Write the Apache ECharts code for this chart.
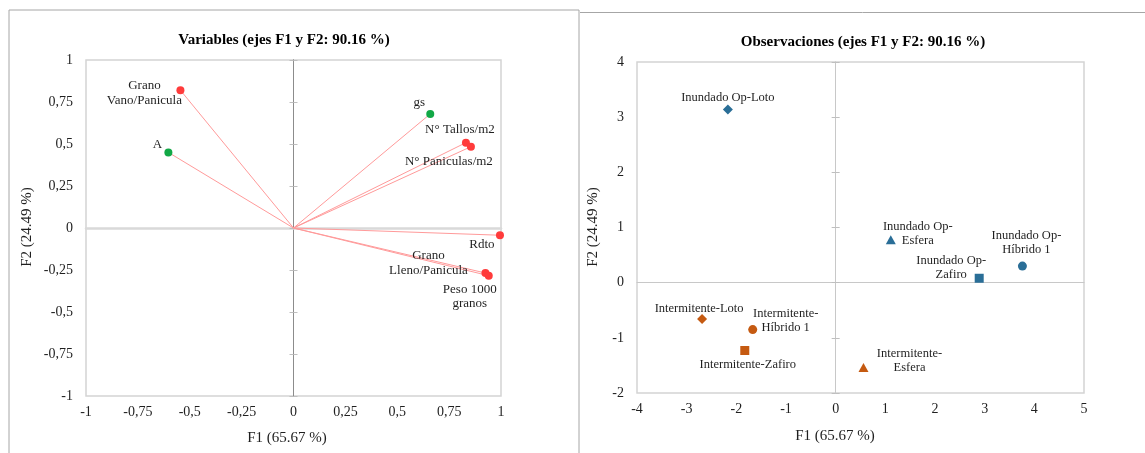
<!DOCTYPE html>
<html>
<head>
<meta charset="utf-8">
<script src="https://cdn.jsdelivr.net/npm/echarts@6/dist/echarts.min.js"></script>
<style>
  html, body { margin: 0; padding: 0; background: #fff; }
  #main { width: 1145px; height: 453px; }
</style>
</head>
<body>
<div id="main"></div>
<script>
// variables (circulo de correlaciones)
var varNames = ['Grano\nVano/Panicula', 'A', 'gs', 'N° Tallos/m2', 'N° Paniculas/m2', 'Rdto', 'Grano\nLleno/Panicula', 'Peso 1000\ngranos']
var varF1 = [-0.545, -0.603, 0.659, 0.831, 0.855, 0.995, 0.925, 0.941]
var varF2 = [0.82, 0.45, 0.679, 0.508, 0.484, -0.043, -0.268, -0.284]
var varTipo = ['rend', 'fisio', 'fisio', 'rend', 'rend', 'rend', 'rend', 'rend']

// observaciones
var obsNames = ['Inundado Op-Loto', 'Inundado Op-\nEsfera', 'Inundado Op-\nHíbrido 1', 'Inundado Op-\nZafiro', 'Intermitente-Loto', 'Intermitente-\nHíbrido 1', 'Intermitente-Zafiro', 'Intermitente-\nEsfera']
var obsF1 = [-2.17, 1.11, 3.76, 2.89, -2.69, -1.67, -1.83, 0.56]
var obsF2 = [3.14, 0.78, 0.30, 0.08, -0.66, -0.85, -1.23, -1.54]
var obsRiego = ['Inundado', 'Inundado', 'Inundado', 'Inundado', 'Intermitente', 'Intermitente', 'Intermitente', 'Intermitente']
var obsVariedad = ['Loto', 'Esfera', 'Híbrido 1', 'Zafiro', 'Loto', 'Híbrido 1', 'Zafiro', 'Esfera']

// etiquetas de los ejes
var ticksVar = ['-1', '-0,75', '-0,5', '-0,25', '0', '0,25', '0,5', '0,75', '1']
var ticksObsX = ['-4', '-3', '-2', '-1', '0', '1', '2', '3', '4', '5']
var ticksObsY = ['-2', '-1', '0', '1', '2', '3', '4']

// estilos (posiciones de etiquetas, colores, simbolos)
var varOffsets = [[-36, 3], [-11, -8], [-11, -11], [-6, -13], [-22, 15], [-18, 9], [-57, -10], [-19, 21]]
var obsOffsets = [[0, -12], [27, -6], [4, -23], [-28, -11], [-3, -10], [33, -9], [3, 14], [46, -7]]
var tipoColor = { rend: '#ff3b3b', fisio: '#12a846' }
var riegoColor = { Inundado: '#2a6e97', Intermitente: '#c55a11' }
var variedadSymbol = { Loto: 'diamond', Esfera: 'triangle', 'Híbrido 1': 'circle', Zafiro: 'rect' }
var variedadSize = { Loto: [10, 10], Esfera: [10, 9], 'Híbrido 1': 9, Zafiro: 9 }

var FONT = '"Liberation Serif", "Times New Roman", serif'
var TXT = '#1f1f1f'

function tickFmt (labels, min, step) {
  return function (v) {
    var i = Math.round((v - min) / step)
    return labels[i] !== undefined ? labels[i] : ''
  }
}

var chart = echarts.init(document.getElementById('main'))

var varPoints = varNames.map(function (n, i) {
  return {
    name: n,
    value: [varF1[i], varF2[i]],
    itemStyle: { color: tipoColor[varTipo[i]], opacity: 1 },
    label: { offset: varOffsets[i] }
  }
})
var varLines = varNames.map(function (n, i) {
  return { coords: [[0, 0], [varF1[i], varF2[i]]] }
})
var obsPoints = obsNames.map(function (n, i) {
  return {
    name: n,
    value: [obsF1[i], obsF2[i]],
    symbol: variedadSymbol[obsVariedad[i]],
    symbolSize: variedadSize[obsVariedad[i]],
    itemStyle: { color: riegoColor[obsRiego[i]], opacity: 1 },
    label: { offset: obsOffsets[i] }
  }
})

function labelAxisX (gi, min, max, step, labels) {
  return {
    gridIndex: gi, type: 'value', min: min, max: max, interval: step, position: 'bottom',
    axisLine: { show: false, onZero: false }, axisTick: { show: false }, splitLine: { show: false },
    axisLabel: { color: TXT, fontFamily: FONT, fontSize: 14, margin: 9, formatter: tickFmt(labels, min, step) }
  }
}
function labelAxisY (gi, min, max, step, labels) {
  return {
    gridIndex: gi, type: 'value', min: min, max: max, interval: step, position: 'left',
    axisLine: { show: false, onZero: false }, axisTick: { show: false }, splitLine: { show: false },
    axisLabel: { color: TXT, fontFamily: FONT, fontSize: 14, margin: 13, formatter: tickFmt(labels, min, step) }
  }
}
function zeroAxisX (gi, min, max, step, color, width) {
  return {
    gridIndex: gi, type: 'value', min: min, max: max, interval: step, position: 'bottom',
    axisLine: { show: true, onZero: true, lineStyle: { color: color, width: width } },
    axisTick: { show: false }, axisLabel: { show: false }, splitLine: { show: false }
  }
}
function zeroAxisY (gi, min, max, step, color, pos) {
  return {
    gridIndex: gi, type: 'value', min: min, max: max, interval: step, position: pos,
    axisLine: { show: true, onZero: true, lineStyle: { color: color, width: 1 } },
    axisTick: { show: true, length: 4, lineStyle: { color: '#bfbfbf' } },
    axisLabel: { show: false }, splitLine: { show: false }
  }
}

var labelStyle = function (size) {
  return {
    show: true, position: 'inside', formatter: '{b}', color: TXT,
    fontFamily: FONT, fontSize: size, lineHeight: size + 1.5, align: 'center', verticalAlign: 'middle'
  }
}

chart.setOption({
  backgroundColor: '#fff',
  animation: false,
  grid: [
    { left: 86, top: 60, width: 415, height: 336, show: true, borderColor: '#d4d4d4', borderWidth: 1.5 },
    { left: 637, top: 62, width: 447, height: 331, show: true, borderColor: '#d4d4d4', borderWidth: 1.5 }
  ],
  xAxis: [
    labelAxisX(0, -1, 1, 0.25, ticksVar),
    zeroAxisX(0, -1, 1, 0.25, '#d9d9d9', 2.5),
    labelAxisX(1, -4, 5, 1, ticksObsX),
    zeroAxisX(1, -4, 5, 1, '#c8c8c8', 1.2)
  ],
  yAxis: [
    labelAxisY(0, -1, 1, 0.25, ticksVar),
    zeroAxisY(0, -1, 1, 0.25, '#8c8c8c', 'left'),
    zeroAxisY(0, -1, 1, 0.25, '#8c8c8c', 'right'),
    labelAxisY(1, -2, 4, 1, ticksObsY),
    zeroAxisY(1, -2, 4, 1, '#c8c8c8', 'left'),
    zeroAxisY(1, -2, 4, 1, '#c8c8c8', 'right')
  ],
  series: [
    {
      type: 'lines',
      coordinateSystem: 'cartesian2d',
      xAxisIndex: 0,
      yAxisIndex: 0,
      symbol: 'none',
      silent: true,
      lineStyle: { color: '#ff9a9a', width: 1, opacity: 1 },
      data: varLines,
      z: 3
    },
    {
      type: 'scatter',
      xAxisIndex: 0,
      yAxisIndex: 0,
      symbolSize: 8,
      label: labelStyle(13),
      data: varPoints,
      z: 4
    },
    {
      type: 'scatter',
      xAxisIndex: 2,
      yAxisIndex: 3,
      label: labelStyle(12.5),
      data: obsPoints,
      z: 4
    }
  ],
  graphic: [
    { type: 'rect', shape: { x: 9, y: 10, width: 570, height: 470 }, style: { fill: 'none', stroke: '#a6a6a6', lineWidth: 1 }, z: -1 },
    { type: 'line', shape: { x1: 580, y1: 12.5, x2: 1145, y2: 12.5 }, style: { stroke: '#a6a6a6', lineWidth: 1 }, z: -1 },
    { type: 'text', x: 284, y: 40, style: { text: 'Variables (ejes F1 y F2: 90.16 %)', fill: '#000', font: 'bold 15px ' + FONT, align: 'center', verticalAlign: 'middle' } },
    { type: 'text', x: 863, y: 42, style: { text: 'Observaciones (ejes F1 y F2: 90.16 %)', fill: '#000', font: 'bold 15px ' + FONT, align: 'center', verticalAlign: 'middle' } },
    { type: 'text', x: 287, y: 438, style: { text: 'F1 (65.67 %)', fill: TXT, font: '15px ' + FONT, align: 'center', verticalAlign: 'middle' } },
    { type: 'text', x: 835, y: 436, style: { text: 'F1 (65.67 %)', fill: TXT, font: '15px ' + FONT, align: 'center', verticalAlign: 'middle' } },
    { type: 'text', x: 27, y: 227, rotation: Math.PI / 2, style: { text: 'F2 (24.49 %)', fill: TXT, font: '15px ' + FONT, align: 'center', verticalAlign: 'middle' } },
    { type: 'text', x: 593, y: 227, rotation: Math.PI / 2, style: { text: 'F2 (24.49 %)', fill: TXT, font: '15px ' + FONT, align: 'center', verticalAlign: 'middle' } }
  ]
})
</script>
</body>
</html>
